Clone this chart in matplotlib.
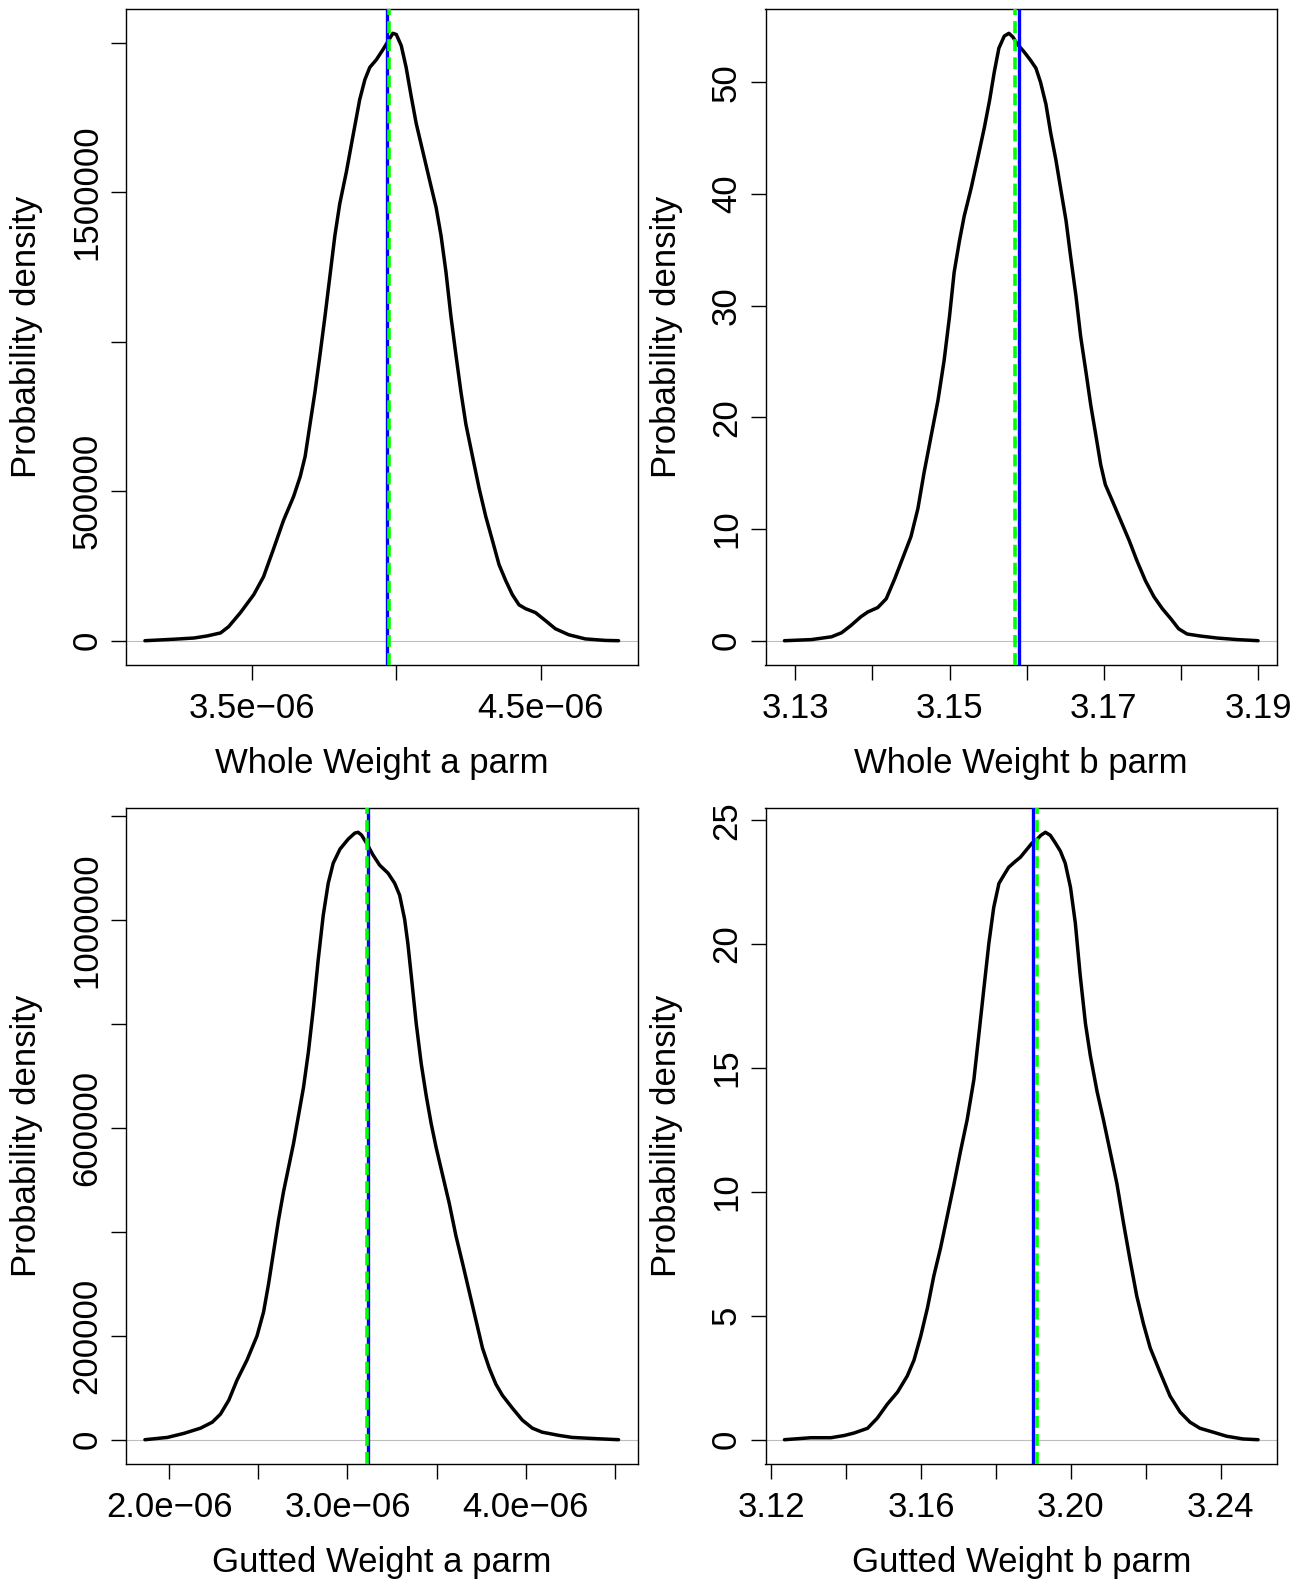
"""Posterior densities of the length-weight parameters (2x2 panel)."""

import numpy as np
import matplotlib.pyplot as plt

plt.rcParams['font.family'] = ['Liberation Sans', 'DejaVu Sans']

# Whole weight, a parameter (x in units of 1e-06, density in units of 1e6)
whole_a_x = [3.129, 3.230, 3.299, 3.345, 3.391, 3.419, 3.460, 3.506, 3.540, 3.575,
             3.609, 3.644, 3.667, 3.684, 3.701, 3.718, 3.735, 3.753, 3.770, 3.787,
             3.804, 3.827, 3.850, 3.873, 3.891, 3.908, 3.931, 3.954, 3.971, 3.988,
             4.000, 4.017, 4.034, 4.051, 4.069, 4.092, 4.115, 4.138, 4.155, 4.172,
             4.189, 4.207, 4.224, 4.241, 4.264, 4.287, 4.310, 4.333, 4.356, 4.379,
             4.402, 4.425, 4.448, 4.482, 4.517, 4.551, 4.597, 4.655, 4.724, 4.770]
whole_a_y = [0.000, 0.005, 0.009, 0.016, 0.026, 0.047, 0.094, 0.154, 0.214, 0.308,
             0.402, 0.482, 0.549, 0.616, 0.724, 0.831, 0.952, 1.086, 1.220, 1.354,
             1.461, 1.568, 1.689, 1.809, 1.876, 1.917, 1.943, 1.977, 2.004, 2.031,
             2.027, 1.990, 1.917, 1.823, 1.729, 1.635, 1.541, 1.448, 1.354, 1.233,
             1.086, 0.952, 0.831, 0.724, 0.616, 0.509, 0.415, 0.335, 0.254, 0.201,
             0.154, 0.120, 0.107, 0.094, 0.067, 0.040, 0.020, 0.006, 0.001, 0.000]
whole_a_mean = 3.966e-06
whole_a_median = 3.974e-06

# Whole weight, b parameter
whole_b_x = [3.1286, 3.1321, 3.1347, 3.1360, 3.1372, 3.1385, 3.1394, 3.1407, 3.1418, 3.1429,
             3.1441, 3.1450, 3.1459, 3.1467, 3.1476, 3.1485, 3.1493, 3.1500, 3.1506, 3.1513,
             3.1519, 3.1528, 3.1536, 3.1545, 3.1552, 3.1558, 3.1564, 3.1571, 3.1577, 3.1582,
             3.1588, 3.1597, 3.1605, 3.1612, 3.1618, 3.1625, 3.1631, 3.1638, 3.1644, 3.1651,
             3.1657, 3.1664, 3.1670, 3.1677, 3.1683, 3.1690, 3.1696, 3.1702, 3.1711, 3.1722,
             3.1733, 3.1743, 3.1754, 3.1765, 3.1776, 3.1787, 3.1797, 3.1808, 3.1825, 3.1847,
             3.1873, 3.1900]
whole_b_y = [0.00, 0.10, 0.35, 0.71, 1.35, 2.14, 2.57, 2.97, 3.76, 5.55,
             7.70, 9.32, 11.83, 15.05, 18.28, 21.51, 25.10, 29.04, 32.99, 35.86,
             38.01, 40.52, 43.03, 45.90, 48.41, 50.92, 53.07, 54.15, 54.40, 54.08,
             53.43, 52.71, 51.99, 51.28, 50.02, 48.05, 45.54, 43.03, 40.52, 37.65,
             34.42, 30.84, 27.25, 24.02, 21.15, 18.28, 15.77, 13.98, 12.54, 10.75,
             8.96, 7.16, 5.37, 3.94, 2.86, 1.96, 1.07, 0.60, 0.42, 0.24,
             0.10, 0.00]
whole_b_mean = 3.1590
whole_b_median = 3.1585

# Gutted weight, a parameter (x in units of 1e-06, density in units of 1e6)
gutted_a_x = [1.863, 1.989, 2.082, 2.175, 2.241, 2.287, 2.334, 2.380, 2.436, 2.492,
              2.529, 2.557, 2.585, 2.613, 2.641, 2.669, 2.697, 2.725, 2.753, 2.781,
              2.809, 2.836, 2.864, 2.892, 2.920, 2.958, 3.004, 3.041, 3.060, 3.079,
              3.107, 3.144, 3.181, 3.228, 3.265, 3.293, 3.321, 3.339, 3.358, 3.386,
              3.414, 3.442, 3.470, 3.498, 3.535, 3.572, 3.609, 3.647, 3.684, 3.721,
              3.758, 3.796, 3.833, 3.870, 3.926, 3.982, 4.038, 4.093, 4.187, 4.261,
              4.391, 4.522]
gutted_a_y = [0.0000, 0.0044, 0.0122, 0.0222, 0.0337, 0.0492, 0.0762, 0.1147, 0.1533, 0.1995,
              0.2458, 0.2998, 0.3614, 0.4231, 0.4771, 0.5234, 0.5696, 0.6236, 0.6776, 0.7470,
              0.8318, 0.9243, 1.0092, 1.0708, 1.1094, 1.1364, 1.1557, 1.1672, 1.1688, 1.1634,
              1.1480, 1.1248, 1.1055, 1.0901, 1.0708, 1.0477, 1.0014, 0.9552, 0.8935, 0.8010,
              0.7238, 0.6622, 0.6082, 0.5619, 0.5079, 0.4540, 0.3923, 0.3383, 0.2843, 0.2304,
              0.1764, 0.1378, 0.1070, 0.0854, 0.0607, 0.0376, 0.0222, 0.0145, 0.0083, 0.0044,
              0.0021, 0.0000]
gutted_a_mean = 3.116e-06
gutted_a_median = 3.107e-06

# Gutted weight, b parameter
gutted_b_x = [3.1235, 3.1306, 3.1359, 3.1395, 3.1421, 3.1457, 3.1483, 3.1510, 3.1537, 3.1563,
              3.1581, 3.1599, 3.1617, 3.1634, 3.1652, 3.1670, 3.1688, 3.1705, 3.1723, 3.1741,
              3.1754, 3.1768, 3.1781, 3.1794, 3.1808, 3.1821, 3.1834, 3.1852, 3.1865, 3.1883,
              3.1896, 3.1910, 3.1920, 3.1932, 3.1945, 3.1959, 3.1972, 3.1985, 3.1999, 3.2012,
              3.2025, 3.2039, 3.2052, 3.2070, 3.2087, 3.2105, 3.2123, 3.2141, 3.2158, 3.2176,
              3.2194, 3.2212, 3.2238, 3.2265, 3.2292, 3.2318, 3.2345, 3.2381, 3.2416, 3.2460,
              3.2500]
gutted_b_y = [0.00, 0.08, 0.08, 0.17, 0.27, 0.46, 0.87, 1.44, 1.92, 2.57,
              3.21, 4.18, 5.32, 6.61, 7.74, 9.03, 10.33, 11.62, 12.91, 14.53,
              16.31, 18.25, 20.03, 21.48, 22.45, 22.78, 23.10, 23.34, 23.50, 23.83,
              24.07, 24.23, 24.39, 24.51, 24.39, 24.07, 23.75, 23.26, 22.29, 20.84,
              18.73, 16.79, 15.50, 14.05, 12.91, 11.62, 10.33, 8.71, 7.26, 5.80,
              4.67, 3.70, 2.73, 1.76, 1.11, 0.71, 0.46, 0.30, 0.14, 0.03,
              0.00]
gutted_b_mean = 3.1900
gutted_b_median = 3.1910

MINUS = '\u2212'

panels = [
    dict(x=np.array(whole_a_x) * 1e-06, y=np.array(whole_a_y) * 1e6,
         mean=whole_a_mean, median=whole_a_median,
         xlabel='Whole Weight a parm',
         xticks=[3.5e-06, 4.0e-06, 4.5e-06],
         xticklabels=['3.5e' + MINUS + '06', '', '4.5e' + MINUS + '06'],
         yticks=[0, 500000, 1000000, 1500000, 2000000],
         yticklabels=['0', '500000', '', '1500000', '']),
    dict(x=whole_b_x, y=whole_b_y, mean=whole_b_mean, median=whole_b_median,
         xlabel='Whole Weight b parm',
         xticks=[3.13, 3.14, 3.15, 3.16, 3.17, 3.18, 3.19],
         xticklabels=['3.13', '', '3.15', '', '3.17', '', '3.19'],
         yticks=[0, 10, 20, 30, 40, 50], yticklabels=['0', '10', '20', '30', '40', '50']),
    dict(x=np.array(gutted_a_x) * 1e-06, y=np.array(gutted_a_y) * 1e6,
         mean=gutted_a_mean, median=gutted_a_median,
         xlabel='Gutted Weight a parm',
         xticks=[2.0e-06, 2.5e-06, 3.0e-06, 3.5e-06, 4.0e-06, 4.5e-06],
         xticklabels=['2.0e' + MINUS + '06', '', '3.0e' + MINUS + '06', '',
                      '4.0e' + MINUS + '06', ''],
         yticks=[0, 200000, 400000, 600000, 800000, 1000000, 1200000],
         yticklabels=['0', '200000', '', '600000', '', '1000000', '']),
    dict(x=gutted_b_x, y=gutted_b_y, mean=gutted_b_mean, median=gutted_b_median,
         xlabel='Gutted Weight b parm',
         xticks=[3.12, 3.14, 3.16, 3.18, 3.20, 3.22, 3.24],
         xticklabels=['3.12', '', '3.16', '', '3.20', '', '3.24'],
         yticks=[0, 5, 10, 15, 20, 25], yticklabels=['0', '5', '10', '15', '20', '25']),
]

W, H = 1302, 1579
fig = plt.figure(figsize=(W / 100, H / 100), dpi=100)

box_w, box_h = 511.5, 656
lefts = [126, 765.5]
tops = [9, 808]

for i, p in enumerate(panels):
    left = lefts[i % 2]
    top = tops[i // 2]
    ax = fig.add_axes([left / W, 1 - (top + box_h) / H, box_w / W, box_h / H])

    # zero line, density curve, then the two reference lines
    ax.axhline(0, color='#BEBEBE', linewidth=0.8, zorder=1)
    ax.plot(p['x'], p['y'], color='black', linewidth=2.5,
            solid_joinstyle='round', solid_capstyle='round', zorder=2)
    ax.axvline(p['mean'], color='#0000FF', linewidth=2.4, zorder=3)
    ax.axvline(p['median'], color='#00FF00', linewidth=2.6,
               linestyle=(0, (3.3, 1.7)), zorder=4)
    ax.margins(x=0.04, y=0.04)

    ax.set_xticks(p['xticks'])
    ax.set_xticklabels(p['xticklabels'])
    ax.set_yticks(p['yticks'])
    ax.set_yticklabels(p['yticklabels'], rotation=90, va='center')

    ax.tick_params(length=10.8, width=1.0, labelsize=25)
    ax.tick_params(axis='x', pad=8.5)
    ax.tick_params(axis='y', pad=5.4)
    for s in ax.spines.values():
        s.set_linewidth(1.0)

    ax.set_xlabel(p['xlabel'], fontsize=25, va='center')
    ax.xaxis.set_label_coords(0.5, -98.5 / box_h)
    ax.set_ylabel('Probability density', fontsize=25, va='center')
    ax.yaxis.set_label_coords(-99 / box_w, 0.5)

fig.savefig('out.png', dpi=100)
